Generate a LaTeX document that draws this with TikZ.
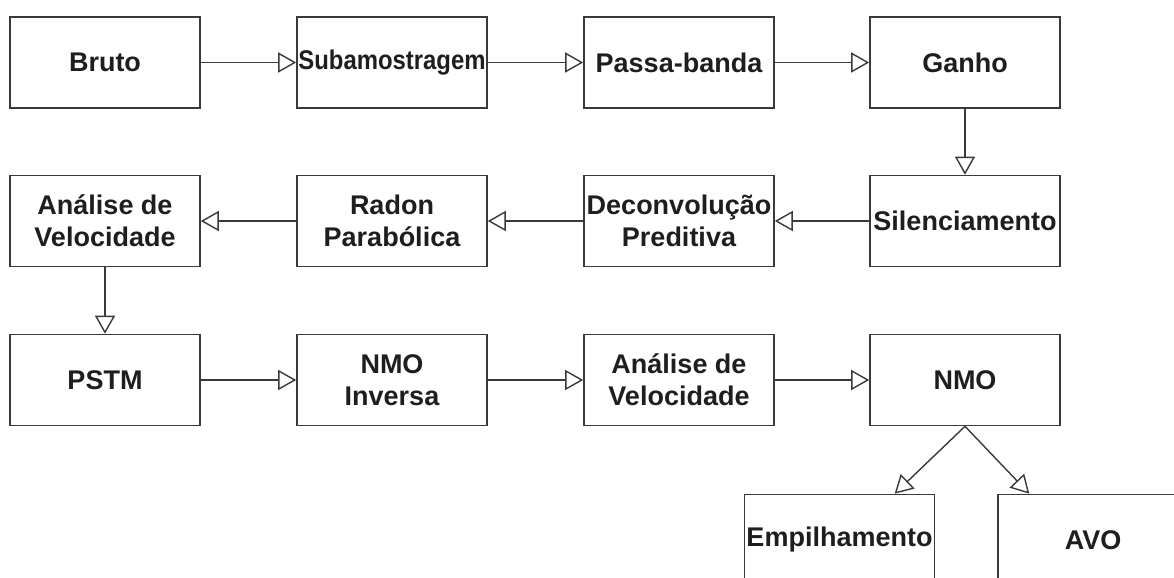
\documentclass[tikz,border=0pt]{standalone}
\usepackage{fontspec}
\setmainfont{Liberation Sans}
\usetikzlibrary{arrows.meta}

\definecolor{linha}{HTML}{3A3A3A}
\definecolor{texto}{HTML}{1E1E1E}

\tikzset{
  etapa/.style = {draw=linha, line width=0.8pt, minimum width=95pt, minimum height=45.5pt,
    inner sep=0.5pt, align=center, text=texto, font=\fontsize{13.5}{16}\selectfont\bfseries},
  fluxo/.style = {draw=linha, line width=0.7pt, -{Triangle[length=9pt, width=10pt, fill=white, line width=0.7pt]}}
}

\begin{document}
\begin{tikzpicture}[x=0.5pt, y=-0.5pt]
\useasboundingbox[fill=white] (0,0) rectangle (1174,578); % page

% first row
\node[etapa] (bruto) at (105,62.5) {Bruto};
\node[etapa] (subamostragem) at (392,62.5) {\scalebox{0.885}[1]{Subamostragem}};
\node[etapa] (passabanda) at (679,62.5) {Passa-banda};
\node[etapa] (ganho) at (965,62.5) {Ganho};

% second row
\node[etapa] (analise1) at (105,221) {Análise de\\Velocidade};
\node[etapa] (radon) at (392,221) {Radon\\Parabólica};
\node[etapa] (deconv) at (679,221) {Deconvolução\\Preditiva};
\node[etapa] (silenc) at (965,221) {Silenciamento};

% third row
\node[etapa] (pstm) at (105,380) {PSTM};
\node[etapa] (nmoinv) at (392,380) {NMO\\Inversa};
\node[etapa] (analise2) at (679,380) {Análise de\\Velocidade};
\node[etapa] (nmo) at (965,380) {NMO};

% last row (cut by the page)
\node[etapa] (empilhamento) at (839.5,540) {Empilhamento};
\node[etapa] (avo) at (1093,540) {AVO};

\draw[fluxo] (bruto) -- (subamostragem); % 1 -> 2
\draw[fluxo] (subamostragem) -- (passabanda); % 2 -> 3
\draw[fluxo] (passabanda) -- (ganho); % 3 -> 4
\draw[fluxo] (ganho) -- (silenc); % down
\draw[fluxo] (silenc) -- (deconv); % back
\draw[fluxo] (deconv) -- (radon);
\draw[fluxo] (radon) -- (analise1);
\draw[fluxo] (analise1) -- (pstm); % down
\draw[fluxo] (pstm) -- (nmoinv);
\draw[fluxo] (nmoinv) -- (analise2);
\draw[fluxo] (analise2) -- (nmo);
\draw[fluxo] (nmo.south) -- (empilhamento.40); % split
\draw[fluxo] (nmo.south) -- (avo.144);

\end{tikzpicture}
\end{document}
